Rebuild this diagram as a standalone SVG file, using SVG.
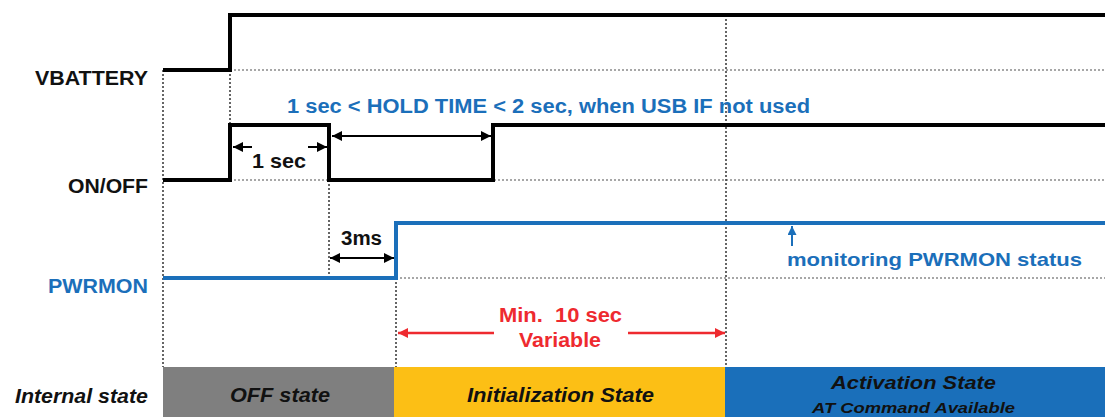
<svg xmlns="http://www.w3.org/2000/svg" width="1105" height="417" viewBox="0 0 1105 417">
  <style>
    .lbl { font-family: "Liberation Sans", Arial, sans-serif; font-weight: bold; }
    .blk { fill: #111111; }
    .blu { fill: #1b6fba; }
    .red { fill: #ee2a2f; }
    .st  { font-family: "Liberation Sans", Arial, sans-serif; font-weight: bold; font-style: italic; fill: #111111; }
    .sig { fill: none; stroke: #000000; stroke-width: 4; stroke-linejoin: miter; }
    .sigb { fill: none; stroke: #1b6fba; stroke-width: 4; stroke-linejoin: miter; }
    .grid { fill: none; stroke: #8a8a8a; stroke-width: 1.5; stroke-dasharray: 2 2; }
    .vgrid { fill: none; stroke: #333333; stroke-width: 1.5; stroke-dasharray: 2 2; }
    .dim { fill: none; stroke: #000000; stroke-width: 2; }
    .dimr { fill: none; stroke: #ee2a2f; stroke-width: 2.5; }
    .dimb { fill: none; stroke: #1b6fba; stroke-width: 2; }
  </style>
  <defs>
    <marker id="ahBlack" viewBox="0 0 10 10" refX="10" refY="5" markerWidth="11" markerHeight="10" markerUnits="userSpaceOnUse" orient="auto-start-reverse">
      <path d="M0,0 L10,5 L0,10 z" fill="#000000"/>
    </marker>
    <marker id="ahRed" viewBox="0 0 10 10" refX="10" refY="5" markerWidth="12" markerHeight="10" markerUnits="userSpaceOnUse" orient="auto-start-reverse">
      <path d="M0,0 L10,5 L0,10 z" fill="#ee2a2f"/>
    </marker>
    <marker id="ahBlue" viewBox="0 0 10 10" refX="10" refY="5" markerWidth="10" markerHeight="9" markerUnits="userSpaceOnUse" orient="auto-start-reverse">
      <path d="M0,0 L10,5 L0,10 z" fill="#1b6fba"/>
    </marker>
  </defs>

  <rect x="0" y="0" width="1105" height="417" fill="#ffffff"/>

  <!-- reference grid: dotted levels and time markers -->
  <g id="grid">
    <path class="grid" d="M230,70 H1105 M230,180 H1105 M396,278 H1105"/>
    <path class="vgrid" d="M163,70 V367 M230,70 V125 M329,180 V278 M396,278 V367 M726,15 V367"/>
  </g>

  <!-- signal traces -->
  <g id="connectors">
    <path id="vbattery-trace" class="sig" d="M163,70 H230 V15 H1105"/>
    <path id="onoff-trace" class="sig" d="M163,180 H230 V125 H329 V180 H493 V125 H1105"/>
    <path id="pwrmon-trace" class="sigb" d="M163,278 H396 V223 H1105"/>

    <!-- timing dimensions -->
    <path class="dim" d="M252,147 H233" marker-end="url(#ahBlack)"/>
    <path class="dim" d="M308,147 H327" marker-end="url(#ahBlack)"/>
    <path class="dim" d="M332,136 H491" marker-start="url(#ahBlack)" marker-end="url(#ahBlack)"/>
    <path class="dim" d="M330,258 H394" marker-start="url(#ahBlack)" marker-end="url(#ahBlack)"/>
    <path class="dimr" d="M494,333 H398" marker-end="url(#ahRed)"/>
    <path class="dimr" d="M628,333 H725" marker-end="url(#ahRed)"/>
    <path class="dimb" d="M792,246 V226" marker-end="url(#ahBlue)"/>
  </g>

  <!-- signal names -->
  <g id="labels">
    <text class="lbl blk" x="148" y="85" text-anchor="end" font-size="21" textLength="113" lengthAdjust="spacingAndGlyphs">VBATTERY</text>
    <text class="lbl blk" x="148" y="193" text-anchor="end" font-size="21" textLength="80" lengthAdjust="spacingAndGlyphs">ON/OFF</text>
    <text class="lbl blu" x="148" y="293" text-anchor="end" font-size="21" textLength="100" lengthAdjust="spacingAndGlyphs">PWRMON</text>
  </g>

  <!-- annotations -->
  <g id="notes">
    <text class="lbl blu" x="287" y="113" font-size="19.5" textLength="523" lengthAdjust="spacingAndGlyphs">1 sec &lt; HOLD TIME &lt; 2 sec, when USB IF not used</text>
    <text class="lbl blk" x="252" y="168" font-size="21" textLength="54" lengthAdjust="spacingAndGlyphs">1 sec</text>
    <text class="lbl blk" x="341" y="245" font-size="20" textLength="41" lengthAdjust="spacingAndGlyphs">3ms</text>
    <text class="lbl red" x="499" y="322" font-size="19.5" textLength="123" lengthAdjust="spacingAndGlyphs" xml:space="preserve">Min.  10 sec</text>
    <text class="lbl red" x="519" y="347" font-size="19.5" textLength="82" lengthAdjust="spacingAndGlyphs">Variable</text>
    <text class="lbl blu" x="787" y="266" font-size="18.5" textLength="295" lengthAdjust="spacingAndGlyphs">monitoring PWRMON status</text>
  </g>

  <!-- internal state bar -->
  <g id="state-label">
    <text class="st" x="148" y="403" text-anchor="end" font-size="21" textLength="133" lengthAdjust="spacingAndGlyphs">Internal state</text>
  </g>
  <g id="off-state">
    <rect x="163" y="367" width="231" height="50" fill="#7f7f7f"/>
    <text class="st" x="230" y="402" font-size="21" textLength="100" lengthAdjust="spacingAndGlyphs">OFF state</text>
  </g>
  <g id="init-state">
    <rect x="394" y="367" width="331" height="50" fill="#fcbf15"/>
    <text class="st" x="467" y="402" font-size="21" textLength="187" lengthAdjust="spacingAndGlyphs">Initialization State</text>
  </g>
  <g id="active-state">
    <rect x="725" y="367" width="380" height="50" fill="#1a6fba"/>
    <text class="st" x="831" y="389" font-size="18" textLength="165" lengthAdjust="spacingAndGlyphs">Activation State</text>
    <text class="st" x="812" y="413" font-size="14" textLength="203" lengthAdjust="spacingAndGlyphs">AT Command Available</text>
  </g>
</svg>
